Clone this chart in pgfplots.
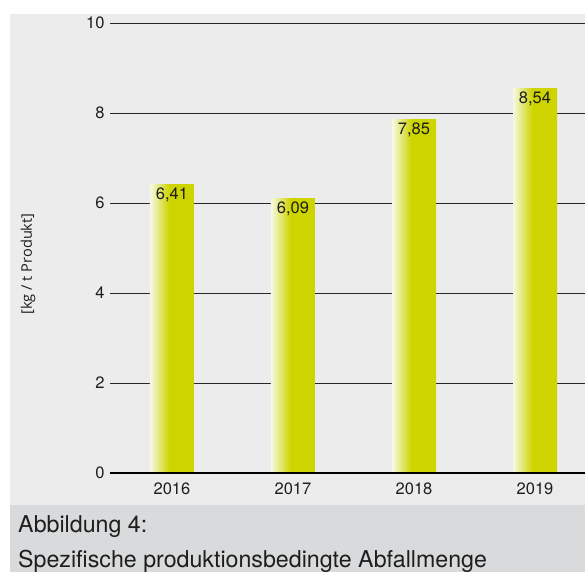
\documentclass[border=0pt]{standalone}
\usepackage{pgfplots}
\pgfplotsset{compat=1.18}
\usepackage{fontspec}
\setmainfont{TeX Gyre Heros}
\newfontfamily\labelfont{Open Sans}
\definecolor{panel}{RGB}{235,236,235}
\definecolor{band}{RGB}{217,218,219}
\definecolor{ybarc}{RGB}{206,212,0}
\definecolor{ylight}{RGB}{247,249,228}
\definecolor{txt}{RGB}{30,30,30}
\pgfdeclarehorizontalshading{barshade}{100bp}{color(0bp)=(ylight); color(25bp)=(ylight); color(47bp)=(ybarc); color(100bp)=(ybarc)}
\begin{document}
\begin{tikzpicture}
\path[use as bounding box] (0,0) rectangle (585bp,-572bp);
\fill[white] (0,0) rectangle (585bp,-572bp);
\fill[panel] (10bp,-14bp) rectangle (585bp,-505bp);
\fill[band] (10bp,-505bp) rectangle (585bp,-572bp);
\begin{axis}[
  at={(110bp,-473bp)}, anchor=south west,
  scale only axis, width=475bp, height=450bp,
  xmin=-0.512, xmax=3.413, ymin=0, ymax=10,
  axis line style={draw=none},
  tick style={draw=none},
  major tick length=0pt,
  ytick={0,2,4,6,8,10},
  ymajorgrids,
  grid style={line width=1bp, color=black!85},
  xtick={0,1,2,3},
  xticklabels={2016,2017,2018,2019},
  tick label style={font=\fontsize{16.5bp}{19bp}\selectfont, text=txt},
  yticklabel style={xshift=-2bp},
  xticklabel style={yshift=-6.5bp},
  /pgf/number format/assume math mode=true,
  clip=false,
  no markers,
  every axis plot/.append style={ybar, bar width=44bp, bar shift=0pt, draw=none, mark=none, shade, shading=barshade,
    nodes near coords={\pgfmathprintnumber[fixed,fixed zerofill,precision=2,use comma,assume math mode=true]{\pgfplotspointmeta}},
    nodes near coords style={anchor=north, yshift=0.5bp, font=\fontsize{16.5bp}{19bp}\selectfont, text=txt}},
]
\addplot coordinates {(0,6.41)};
\addplot coordinates {(1,6.09)};
\addplot coordinates {(2,7.85)};
\addplot coordinates {(3,8.54)};
\draw[line width=2.7bp, black] (rel axis cs:0,0) -- (rel axis cs:1,0);
\end{axis}
\node[rotate=90, font=\labelfont\fontsize{14.6bp}{17bp}\selectfont, text=txt] at (28bp,-264bp) {[kg / t Produkt]};
\node[anchor=base west, inner sep=0pt, font=\fontsize{23.2bp}{28bp}\selectfont, text=txt] at (18bp,-532.7bp) {Abbildung 4:};
\node[anchor=base west, inner sep=0pt, font=\fontsize{23.2bp}{28bp}\selectfont, text=txt] at (18bp,-567.7bp) {Spezifische produktionsbedingte Abfallmenge};
\end{tikzpicture}
\end{document}
